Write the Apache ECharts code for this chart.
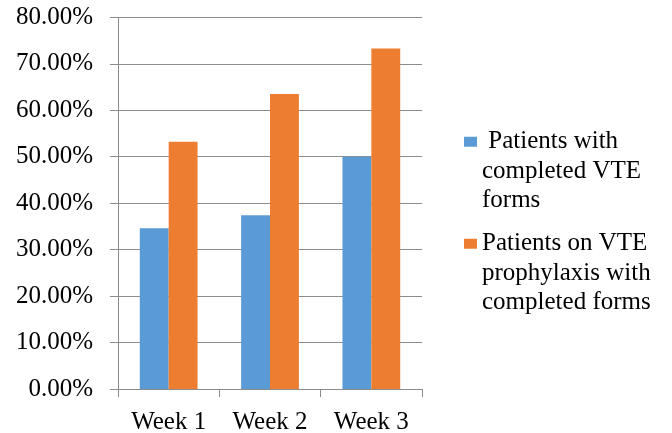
<!DOCTYPE html>
<html>
<head>
<meta charset="utf-8">
<script src="https://cdn.jsdelivr.net/npm/echarts@6/dist/echarts.min.js"></script>
<style>
  html, body { margin: 0; padding: 0; background: #fff; }
  #chart { width: 672px; height: 433px; }
</style>
</head>
<body>
<div id="chart"></div>
<script>
// data
var weeks = ['Week 1', 'Week 2', 'Week 3'];
var completedForms = [34.6, 37.4, 50.0];
var onProphylaxis = [53.2, 63.5, 73.3];
var yTicks = { min: 0, max: 80, step: 10 };

var nameA = ' Patients with\ncompleted VTE\nforms';
var nameB = 'Patients on VTE\nprophylaxis with\ncompleted forms';

var font = '"Liberation Serif", "Times New Roman", serif';
var gray = '#8c8c8c';

// legend text: two blank lines on top so the first line sits beside the icon
function legendText(name) {
    return '\n\n' + name;
}

var legendBase = {
    orient: 'vertical',
    left: 464,
    padding: 0,
    icon: 'rect',
    itemWidth: 13,
    itemHeight: 10,
    itemGap: 0,
    selectedMode: false,
    formatter: legendText,
    textStyle: {
        fontFamily: font,
        fontSize: 25,
        lineHeight: 29.5,
        color: '#000'
    }
};

var option = {
    backgroundColor: '#fff',
    animation: false,
    textStyle: { fontFamily: font },
    grid: {
        left: 118,
        right: 250,
        top: 17.3,
        bottom: 44,
        outerBoundsMode: 'none'
    },
    legend: [
        Object.assign({}, legendBase, { top: 68, data: [nameA] }),
        Object.assign({}, legendBase, { top: 170, data: [nameB] })
    ],
    xAxis: {
        type: 'category',
        data: weeks,
        axisLine: { lineStyle: { color: gray, width: 1 } },
        axisTick: { show: true, length: 8, lineStyle: { color: gray } },
        axisLabel: {
            fontFamily: font,
            fontSize: 25,
            color: '#000',
            margin: 21
        }
    },
    yAxis: {
        type: 'value',
        min: yTicks.min,
        max: yTicks.max,
        interval: yTicks.step,
        axisLine: { show: true, lineStyle: { color: gray, width: 1 } },
        axisTick: { show: true, length: 8, lineStyle: { color: gray } },
        splitLine: { show: true, lineStyle: { color: gray, width: 1 } },
        axisLabel: {
            fontFamily: font,
            fontSize: 25,
            color: '#000',
            margin: 25,
            formatter: function (v) { return v.toFixed(2) + '%'; }
        }
    },
    series: [
        {
            name: nameA,
            type: 'bar',
            data: completedForms,
            barGap: '0%',
            barCategoryGap: '43%',
            itemStyle: { color: '#5B9BD5' }
        },
        {
            name: nameB,
            type: 'bar',
            data: onProphylaxis,
            itemStyle: { color: '#ED7D31' }
        }
    ]
};

var dom = document.getElementById('chart');
var myChart = echarts.init(dom, null, { renderer: 'canvas' });
myChart.setOption(option, true);
</script>
</body>
</html>
